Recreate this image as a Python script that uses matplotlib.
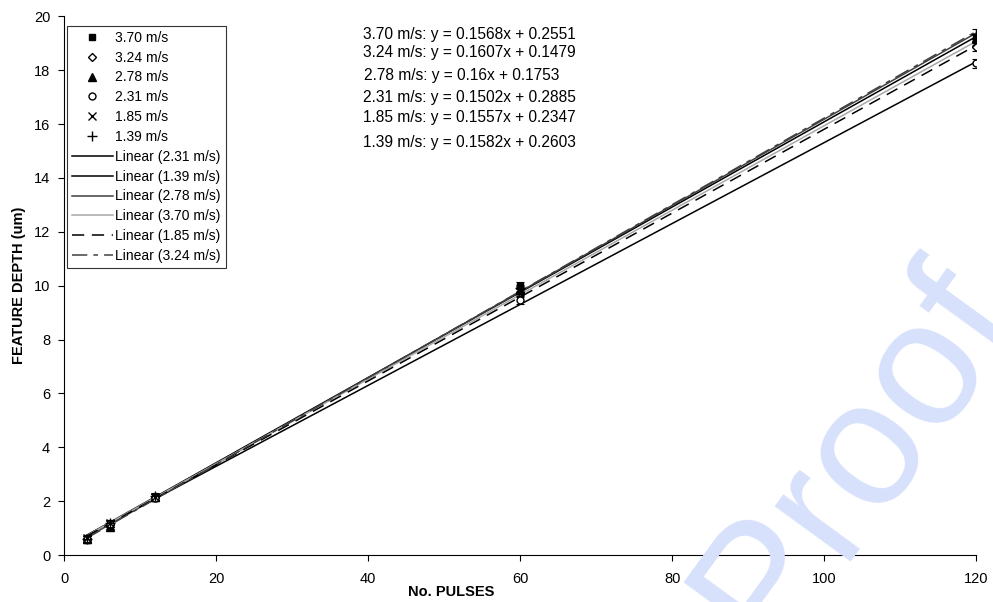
import numpy as np
import matplotlib
matplotlib.use('Agg')
from matplotlib import pyplot as plt

plt.rcParams['font.family'] = ['Liberation Sans', 'DejaVu Sans']

pulses = [3, 6, 12, 60, 120]
speeds = ['3.70', '3.24', '2.78', '2.31', '1.85', '1.39']
depth = {
    '3.70': [0.55, 1.05, 2.10, 10.00, 19.15],
    '3.24': [0.60, 1.15, 2.15, 9.75, 18.85],
    '2.78': [0.60, 1.05, 2.15, 9.85, 19.20],
    '2.31': [0.60, 1.15, 2.10, 9.45, 18.25],
    '1.85': [0.65, 1.20, 2.15, 9.80, 19.05],
    '1.39': [0.60, 1.20, 2.20, 9.90, 19.35],
}
err = {
    '3.70': [0.10, 0.10, 0.10, 0.12, 0.15],
    '3.24': [0.10, 0.10, 0.10, 0.12, 0.15],
    '2.78': [0.10, 0.10, 0.10, 0.12, 0.15],
    '2.31': [0.10, 0.10, 0.10, 0.12, 0.18],
    '1.85': [0.10, 0.10, 0.10, 0.12, 0.15],
    '1.39': [0.10, 0.10, 0.10, 0.12, 0.18],
}
# trendline fits as printed on the chart
slope = {'3.70': 0.1568, '3.24': 0.1607, '2.78': 0.16, '2.31': 0.1502, '1.85': 0.1557, '1.39': 0.1582}
intercept = {'3.70': 0.2551, '3.24': 0.1479, '2.78': 0.1753, '2.31': 0.2885, '1.85': 0.2347, '1.39': 0.2603}
slope_txt = {'3.70': '0.1568', '3.24': '0.1607', '2.78': '0.16', '2.31': '0.1502', '1.85': '0.1557', '1.39': '0.1582'}

markers = {'3.70': dict(marker='s', mfc='black', mec='black', ms=5),
           '3.24': dict(marker='D', mfc='white', mec='black', ms=4),
           '2.78': dict(marker='^', mfc='black', mec='black', ms=5.5),
           '2.31': dict(marker='o', mfc='white', mec='black', ms=5),
           '1.85': dict(marker='x', mfc='none', mec='black', ms=6),
           '1.39': dict(marker='+', mfc='none', mec='black', ms=7)}

fit_order = ['2.31', '1.39', '2.78', '3.70', '1.85', '3.24']
fit_style = {'2.31': dict(color='black', linestyle='-'),
             '1.39': dict(color='black', linestyle='-'),
             '2.78': dict(color='#404040', linestyle='-'),
             '3.70': dict(color='#a8a8a8', linestyle='-'),
             '1.85': dict(color='black', linestyle=(0, (8, 5))),
             '3.24': dict(color='#404040', linestyle=(0, (10, 4, 3, 4)))}

fig = plt.figure(figsize=(9.93, 6.02), dpi=100)
ax = fig.add_axes([0.0645, 0.078, 0.9185, 0.895])

handles = []
for s in speeds:
    ax.errorbar(pulses, depth[s], yerr=err[s], fmt='none', ecolor='black',
                elinewidth=0.8, capsize=3, capthick=0.8, zorder=4)
    h, = ax.plot(pulses, depth[s], linestyle='none', mew=1, zorder=5,
                 label=s + ' m/s', **markers[s])
    handles.append(h)

xfit = np.array([pulses[0], pulses[-1]])
for s in fit_order:
    h, = ax.plot(xfit, slope[s] * xfit + intercept[s], lw=1.1, zorder=3,
                 label='Linear (' + s + ' m/s)', **fit_style[s])
    handles.append(h)

eq_y = [0.967, 0.933, 0.890, 0.850, 0.813, 0.765]
eq_x = [0.3275, 0.3275, 0.329, 0.3275, 0.328, 0.3275]
for i, s in enumerate(speeds):
    ax.text(eq_x[i], eq_y[i], s + ' m/s: y = ' + slope_txt[s] + 'x + ' + '%g' % intercept[s],
            transform=ax.transAxes, fontsize=11.2, va='center', ha='left')

ax.set_xlim(0, 120)
ax.set_ylim(0, 20)
ax.set_xticks(range(0, 121, 20))
ax.set_yticks(range(0, 21, 2))
ax.tick_params(direction='out', length=4, width=0.8, labelsize=10.5, pad=6)
ax.tick_params(axis='x', pad=8)
for side in ['top', 'right']:
    ax.spines[side].set_visible(False)
for side in ['left', 'bottom']:
    ax.spines[side].set_linewidth(0.8)

ax.set_xlabel('No. PULSES', fontsize=10.5, fontweight='bold')
ax.xaxis.set_label_coords(0.424, -0.055)
ax.set_ylabel('FEATURE DEPTH (um)', fontsize=10.5, fontweight='bold')
ax.yaxis.set_label_coords(-0.042, 0.5)

leg = ax.legend(handles=handles, loc='upper left', bbox_to_anchor=(0.003, 0.982),
                fontsize=10, frameon=True, fancybox=False, edgecolor='black',
                handlelength=3.0, handletextpad=0.15, labelspacing=0.42, borderpad=0.35,
                borderaxespad=0.0, numpoints=1)
leg.get_frame().set_linewidth(0.8)

# light blue watermark across the lower right
fig.text(0.862, 0.243, 'Proof', fontsize=128, color='#d7e1fb', rotation=54,
         ha='center', va='center', zorder=0)

fig.savefig('out.png', dpi=100)
